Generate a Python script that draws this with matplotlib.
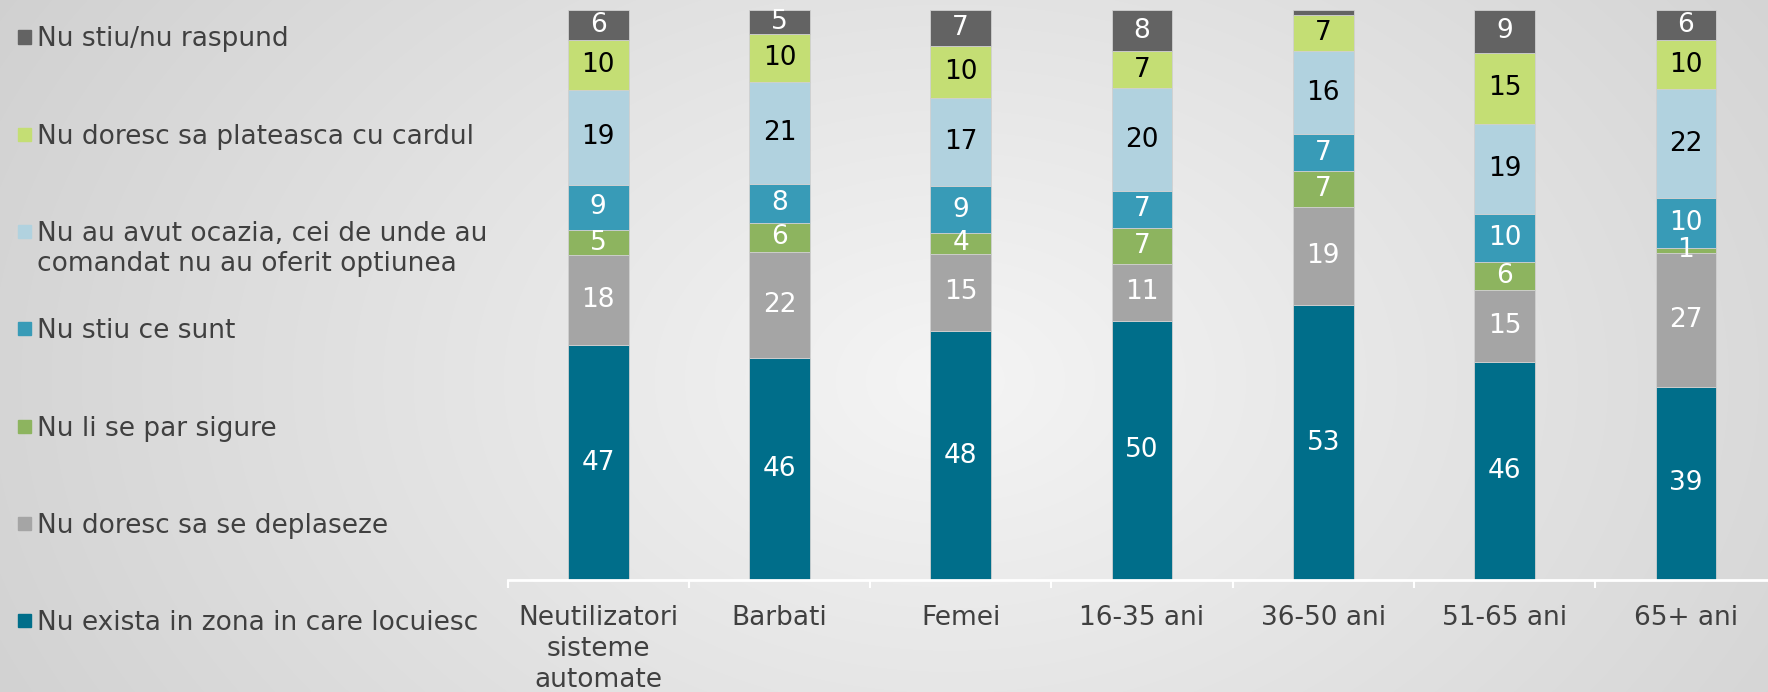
import numpy as np
import matplotlib
matplotlib.use("Agg")
import matplotlib.pyplot as plt
from matplotlib.patches import Rectangle

plt.rcParams['font.family'] = ['DejaVu Sans']

# categorii si valori (procente, de jos in sus)
categorii = ["Neutilizatori\nsisteme\nautomate", "Barbati", "Femei",
             "16-35 ani", "36-50 ani", "51-65 ani", "65+ ani"]

nu_exista = [47, 46, 48, 50, 53, 46, 39]
nu_deplaseze = [18, 22, 15, 11, 19, 15, 27]
nu_sigure = [5, 6, 4, 7, 7, 6, 1]
nu_stiu_ce = [9, 8, 9, 7, 7, 10, 10]
nu_ocazia = [19, 21, 17, 20, 16, 19, 22]
nu_cardul = [10, 10, 10, 7, 7, 15, 10]
nu_stiu_nr = [6, 5, 7, 8, 1, 9, 6]

etichete = ["Nu exista in zona in care locuiesc",
            "Nu doresc sa se deplaseze",
            "Nu li se par sigure",
            "Nu stiu ce sunt",
            "Nu au avut ocazia, cei de unde au\ncomandat nu au oferit optiunea",
            "Nu doresc sa plateasca cu cardul",
            "Nu stiu/nu raspund"]

serii = [nu_exista, nu_deplaseze, nu_sigure, nu_stiu_ce, nu_ocazia, nu_cardul, nu_stiu_nr]
culori = ["#006e8a", "#a5a5a5", "#8db45f", "#389bb7", "#b1d2df", "#c4de74", "#636363"]
culori_text = ["white", "white", "white", "white", "black", "black", "white"]
ascunse = {(6, 4)}  # felia foarte mica fara eticheta

W, H = 1768, 692
fig = plt.figure(figsize=(W / 100, H / 100), dpi=100)

# fundal cu gradient radial
bg = fig.add_axes([0, 0, 1, 1], zorder=-10)
yy, xx = np.mgrid[0:H, 0:W]
r = np.sqrt(((xx - 950) / 1000.0) ** 2 + ((yy - 380) / 700.0) ** 2)
val = np.clip(0.96 - 0.13 * r, 0, 1)
bg.imshow(np.dstack([val, val, val]), aspect="auto", extent=[0, 1, 0, 1])
bg.axis("off")

ax = fig.add_axes([507.5 / W, (H - 580) / H, 7 * 181.3 / W, 570 / H])
ax.set_facecolor("none")

date = np.array(serii, dtype=float)
total = date.sum(axis=0)
proc = date / total * 100

x = np.arange(len(categorii))
baza = np.zeros(len(categorii))
for i, (p, c) in enumerate(zip(proc, culori)):
    ax.bar(x, p, 0.335, bottom=baza, color=c, edgecolor="#d0d0d0", linewidth=0.6)
    for j in range(len(categorii)):
        if (i, j) in ascunse:
            continue
        ax.text(x[j], baza[j] + p[j] / 2, str(serii[i][j]), ha="center", va="center",
                fontsize=19, color=culori_text[i])
    baza += p

ax.set_xlim(-0.5, len(categorii) - 0.5)
ax.set_ylim(0, 100)
for s in ["top", "right", "left"]:
    ax.spines[s].set_visible(False)
ax.spines["bottom"].set_color("white")
ax.spines["bottom"].set_linewidth(2)
ax.set_yticks([])
ax.set_xticks(x)
ax.set_xticklabels(categorii, fontsize=19, color="#404040", linespacing=1.24)
ax.tick_params(axis="x", which="major", length=0, pad=18)
ax.set_xticks(np.arange(len(categorii) + 1) - 0.5, minor=True)
ax.tick_params(axis="x", which="minor", length=6, width=1.5, color="white", direction="out")

# legenda manuala in stanga
for k in range(len(etichete)):
    i = len(etichete) - 1 - k
    yc = 37 + k * 97.3
    fig.patches.append(Rectangle((18 / W, 1 - (yc + 6.5) / H), 13 / W, 13 / H,
                                 transform=fig.transFigure, color=culori[i]))
    fig.text(37 / W, 1 - (yc - 10.5) / H, etichete[i], fontsize=19, color="#404040",
             va="top", ha="left", linespacing=1.2)

fig.savefig("out.png", dpi=100)
